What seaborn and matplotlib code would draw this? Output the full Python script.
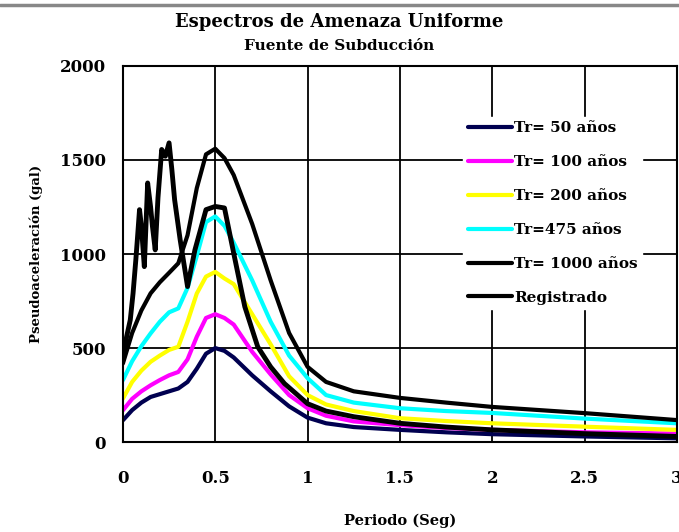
import matplotlib
matplotlib.use("Agg")
import matplotlib.pyplot as plt
from matplotlib.lines import Line2D
import pandas as pd
import seaborn as sns

# Periodos (s) comunes a los espectros de amenaza
periodo = [0, 0.05, 0.1, 0.15, 0.2, 0.25, 0.3, 0.35, 0.4, 0.45, 0.5, 0.55, 0.6,
           0.7, 0.8, 0.9, 1.0, 1.1, 1.25, 1.5, 1.75, 2.0, 2.5, 3.0]

tr50 = [116, 170, 210, 240, 255, 270, 285, 320, 390, 470, 500, 485, 450,
        355, 270, 190, 130, 100, 80, 65, 52, 42, 30, 20]
tr100 = [169, 230, 270, 302, 330, 355, 373, 440, 560, 660, 680, 660, 625,
         480, 360, 250, 180, 140, 110, 90, 75, 65, 52, 45]
tr200 = [231, 320, 380, 427, 460, 490, 507, 640, 790, 880, 905, 870, 840,
         680, 520, 350, 250, 200, 165, 127, 112, 100, 82, 65]
tr475 = [329, 430, 510, 578, 640, 690, 711, 820, 990, 1170, 1200, 1150, 1060,
         860, 640, 460, 340, 250, 210, 180, 165, 155, 125, 100]
tr1000 = [418, 580, 700, 791, 850, 900, 951, 1100, 1350, 1530, 1560, 1510, 1420,
          1160, 860, 580, 400, 320, 270, 235, 210, 187, 154, 117]

# Espectro registrado
periodo_reg = [0, 0.02, 0.04, 0.055, 0.07, 0.08, 0.09, 0.1, 0.116, 0.134, 0.15,
               0.16, 0.175, 0.19, 0.21, 0.23, 0.25, 0.265, 0.28, 0.31, 0.35, 0.39,
               0.45, 0.5, 0.55, 0.6, 0.66, 0.73, 0.8, 0.875, 1.0, 1.1, 1.25, 1.5,
               1.75, 2.0, 2.5, 3.0]
registrado = [435, 560, 650, 791, 969, 1100, 1236, 1150, 933, 1378, 1250,
              1147, 1022, 1300, 1556, 1520, 1591, 1450, 1289, 1076, 827, 1022,
              1236, 1253, 1245, 1004, 720, 507, 400, 311, 204, 165, 135, 100,
              80, 65, 45, 30]

etiquetas = ["Tr= 50 años", "Tr= 100 años", "Tr= 200 años", "Tr=475 años",
             "Tr= 1000 años", "Registrado"]
colores = ["#000050", "#ff00ff", "#ffff00", "#00ffff", "#000000", "#000000"]
x_ticks = [0, 0.5, 1, 1.5, 2, 2.5, 3]
x_labels = ["0", "0.5", "1", "1.5", "2", "2.5", "3"]
y_ticks = [0, 500, 1000, 1500, 2000]

# Tabla larga para seaborn
series = [tr50, tr100, tr200, tr475, tr1000]
filas = []
for nombre, valores in zip(etiquetas[:5], series):
    for t, v in zip(periodo, valores):
        filas.append({"Periodo": t, "Sa": v, "Serie": nombre})
for t, v in zip(periodo_reg, registrado):
    filas.append({"Periodo": t, "Sa": v, "Serie": etiquetas[5]})
df = pd.DataFrame(filas)

sns.set_style("white")
plt.rcParams["font.family"] = ["DejaVu Serif"]
plt.rcParams["font.weight"] = "bold"
plt.rcParams["text.color"] = "black"
plt.rcParams["axes.labelcolor"] = "black"
plt.rcParams["xtick.color"] = "black"
plt.rcParams["ytick.color"] = "black"

fig = plt.figure(figsize=(6.79, 5.32), dpi=100)
ax = fig.add_axes([0.181, 0.169, 0.816, 0.707])

sns.lineplot(data=df, x="Periodo", y="Sa", hue="Serie", hue_order=etiquetas,
             palette=dict(zip(etiquetas, colores)), linewidth=3, ax=ax,
             estimator=None, sort=False)
for ln, w in zip(ax.get_lines(), [3, 3, 3, 3, 3, 3.5]):
    ln.set_linewidth(w)

ax.set_xlim(0, 3)
ax.set_ylim(0, 2000)
ax.set_xticks(x_ticks)
ax.set_xticklabels(x_labels)
ax.set_yticks(y_ticks)
ax.grid(True, color="black", linewidth=1.3)
ax.tick_params(axis="both", direction="inout", length=8, width=1.2, color="black",
               labelsize=12, labelcolor="black")
ax.tick_params(axis="x", pad=16)
ax.tick_params(axis="y", pad=8)
for lab in ax.get_xticklabels() + ax.get_yticklabels():
    lab.set_fontweight("bold")
for sp in ax.spines.values():
    sp.set_color("black")
    sp.set_linewidth(1.5)

ax.set_xlabel("Periodo (Seg)", fontsize=10.5, fontweight="bold", labelpad=19)
ax.set_ylabel("Pseudoaceleración (gal)", fontsize=9.5, fontweight="bold", labelpad=12)

fig.text(0.5, 0.958, "Espectros de Amenaza Uniforme", ha="center", va="center",
         fontsize=13, fontweight="bold")
fig.text(0.5, 0.913, "Fuente de Subducción", ha="center", va="center",
         fontsize=11, fontweight="bold")
fig.add_artist(Line2D([0, 1], [0.99, 0.99], color="#888888", linewidth=2.5,
                      transform=fig.transFigure))

handles, labels = ax.get_legend_handles_labels()
leg = ax.legend(handles, labels, loc="upper left", bbox_to_anchor=(0.6, 0.885),
                frameon=True, facecolor="white", edgecolor="white", framealpha=1,
                fontsize=11, handlelength=2.9, handletextpad=0.15,
                labelspacing=1.3, borderpad=0.3)
for txt in leg.get_texts():
    txt.set_fontweight("bold")
    txt.set_color("black")

fig.savefig("out.png", dpi=100, facecolor="white")
